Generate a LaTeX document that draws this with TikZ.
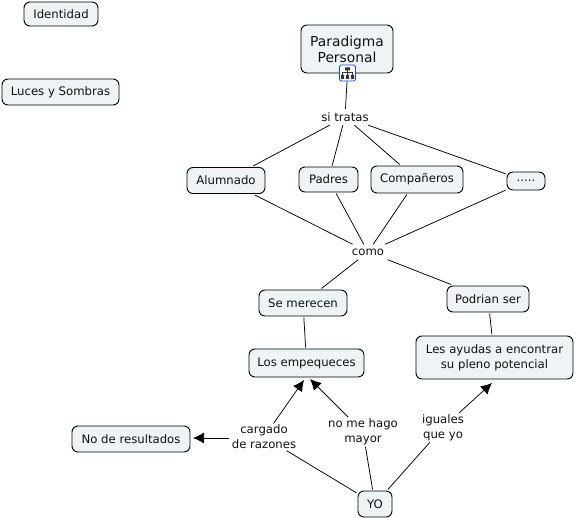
\documentclass[tikz,border=0pt]{standalone}
\usepackage{fontspec}
\setmainfont{DejaVu Sans}
\usetikzlibrary{arrows.meta}
\definecolor{boxfill}{HTML}{EEF3F6}
\definecolor{txt}{HTML}{111111}
\tikzset{
  x=1pt,y=-1pt,
  concept/.style={draw=black,line width=0.9pt,fill=boxfill,rounded corners=6pt,align=center,text=txt,font=\fontsize{11.7}{15}\selectfont,inner sep=0pt,outer sep=1.5pt},
  linker/.style={align=center,text=txt,font=\fontsize{11.7}{14.8}\selectfont,inner xsep=3pt,inner ysep=1.5pt},
  conn/.style={draw=black,line width=0.75pt},
  arr/.style={conn,-{Latex[length=11pt,width=11pt]}},
}
\begin{document}
\begin{tikzpicture}
\useasboundingbox (0,0) rectangle (576,518);
\node[concept,minimum width=74pt,minimum height=24pt] (ident) at (61,14) {Identidad};
\node[concept,minimum width=117pt,minimum height=26pt] (luces) at (60.5,92) {Luces y Sombras};
\node[concept,minimum width=92pt,minimum height=48pt,font=\fontsize{13.8}{16}\selectfont] (para) at (347,49) {Paradigma\\Personal};
\node[concept,minimum width=78pt,minimum height=26pt] (alum) at (226,180.5) {Alumnado};
\node[concept,minimum width=59pt,minimum height=25pt] (padres) at (328.5,179.5) {Padres};
\node[concept,minimum width=92pt,minimum height=27pt] (comp) at (417,179.5) {Compañeros};
\node[concept,minimum width=38pt,minimum height=18pt] (dots) at (526,181) {.....};
\node[concept,minimum width=88pt,minimum height=26pt] (merecen) at (303,303) {Se merecen};
\node[concept,minimum width=82pt,minimum height=26pt] (podrian) at (488,299) {Podrian ser};
\node[concept,minimum width=115pt,minimum height=28pt] (emp) at (306.5,363) {Los empequeces};
\node[concept,minimum width=157pt,minimum height=43pt] (ayudas) at (494.5,357.5) {Les ayudas a encontrar\\su pleno potencial};
\node[concept,minimum width=118pt,minimum height=26pt] (nores) at (131,439) {No de resultados};
\node[concept,minimum width=34pt,minimum height=26pt] (yo) at (375,504) {YO};
\node[linker,minimum height=16pt] (tratas) at (345,117) {si tratas};
\node[linker,minimum height=15pt,minimum width=40pt] (como) at (368,252) {como};
\node[linker] (cargado) at (264,437) {cargado\\de razones};
\node[linker] (hago) at (363,432) {no me hago\\mayor};
\node[linker] (iguales) at (443,427.5) {iguales\\que yo};
\coordinate (empA) at (304,380);
\coordinate (empB) at (310,379);
\coordinate (ayA) at (492,383);
\node[draw=blue!70!cyan,line width=0.8pt,fill=white,rounded corners=2pt,minimum size=16pt,inner sep=0pt] (icon) at (347.5,73) {};
\fill[black!80] (345,67.5) rectangle (350,70.5) (341,75) rectangle (344,79) (346,75) rectangle (349,79) (351,75) rectangle (354,79);
\draw[black!80,line width=0.6pt] (347.5,70.5) -- (347.5,75) (342.5,75) -- (342.5,72.5) -- (352.5,72.5) -- (352.5,75);
\draw[conn] (icon) -- (tratas);
\draw[conn] (tratas) -- (alum);
\draw[conn] (tratas) -- (padres);
\draw[conn] (tratas) -- (comp);
\draw[conn] (tratas) -- (dots);
\draw[conn] (alum) -- (como);
\draw[conn] (padres) -- (como);
\draw[conn] (comp) -- (como);
\draw[conn] (dots) -- (como);
\draw[conn] (como) -- (merecen);
\draw[conn] (como) -- (podrian);
\draw[conn] (merecen) -- (emp);
\draw[conn] (podrian) -- (ayudas);
\draw[conn] (yo) -- (cargado);
\draw[conn] (yo) -- (hago);
\draw[conn] (yo) -- (iguales);
\draw[arr] (cargado) -- (empA);
\draw[arr] (hago) -- (empB);
\draw[arr] (iguales) -- (ayA);
\draw[arr,shorten >=1.5pt] ([yshift=-1pt]cargado.west) -- ([yshift=1pt]nores.east);
\end{tikzpicture}
\end{document}
